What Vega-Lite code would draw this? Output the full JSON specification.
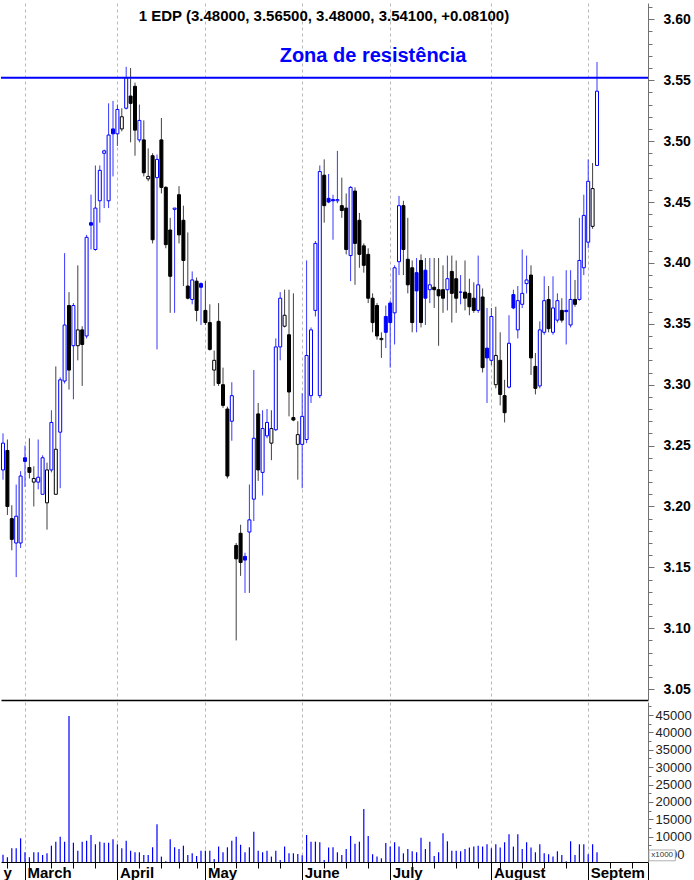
{
"$schema": "https://vega.github.io/schema/vega-lite/v6.json",
"padding": 0,
"spacing": 0,
"background": "#ffffff",
"config": {"view": {"stroke": null}, "font": "Liberation Sans"},
"datasets": {"k": [
{"i":0,"o":3.230,"h":3.260,"l":3.222,"c":3.252,"d":"u","v":4800},
{"i":1,"o":3.246,"h":3.255,"l":3.193,"c":3.200,"d":"d","v":4100},
{"i":2,"o":3.190,"h":3.201,"l":3.164,"c":3.173,"d":"d","v":6700},
{"i":3,"o":3.170,"h":3.218,"l":3.142,"c":3.192,"d":"u","v":6700},
{"i":4,"o":3.170,"h":3.229,"l":3.166,"c":3.225,"d":"u","v":9560},
{"i":5,"o":3.240,"h":3.250,"l":3.216,"c":3.237,"d":"u","v":5540},
{"i":6,"o":3.232,"h":3.256,"l":3.223,"c":3.228,"d":"d","v":4100},
{"i":7,"o":3.220,"h":3.233,"l":3.200,"c":3.223,"d":"d","v":5540},
{"i":8,"o":3.220,"h":3.255,"l":3.214,"c":3.224,"d":"u","v":5540},
{"i":9,"o":3.210,"h":3.242,"l":3.210,"c":3.240,"d":"u","v":4760},
{"i":10,"o":3.203,"h":3.236,"l":3.181,"c":3.230,"d":"d","v":5250},
{"i":11,"o":3.230,"h":3.279,"l":3.228,"c":3.269,"d":"u","v":7440},
{"i":12,"o":3.210,"h":3.315,"l":3.210,"c":3.247,"d":"d","v":8600},
{"i":13,"o":3.261,"h":3.306,"l":3.215,"c":3.304,"d":"u","v":10020},
{"i":14,"o":3.303,"h":3.408,"l":3.301,"c":3.349,"d":"u","v":8600},
{"i":15,"o":3.365,"h":3.376,"l":3.296,"c":3.312,"d":"d","v":44700},
{"i":16,"o":3.332,"h":3.367,"l":3.288,"c":3.365,"d":"u","v":8300},
{"i":17,"o":3.332,"h":3.398,"l":3.320,"c":3.345,"d":"d","v":6000},
{"i":18,"o":3.345,"h":3.348,"l":3.299,"c":3.333,"d":"d","v":8600},
{"i":19,"o":3.340,"h":3.423,"l":3.338,"c":3.421,"d":"u","v":8880},
{"i":20,"o":3.433,"h":3.456,"l":3.411,"c":3.431,"d":"u","v":10510},
{"i":21,"o":3.411,"h":3.480,"l":3.410,"c":3.445,"d":"u","v":7840},
{"i":22,"o":3.451,"h":3.480,"l":3.433,"c":3.476,"d":"u","v":8600},
{"i":23,"o":3.490,"h":3.493,"l":3.445,"c":3.492,"d":"u","v":8300},
{"i":24,"o":3.451,"h":3.531,"l":3.445,"c":3.505,"d":"u","v":8300},
{"i":25,"o":3.510,"h":3.533,"l":3.471,"c":3.506,"d":"u","v":9270},
{"i":26,"o":3.506,"h":3.530,"l":3.496,"c":3.526,"d":"u","v":7840},
{"i":27,"o":3.510,"h":3.527,"l":3.508,"c":3.520,"d":"d","v":6690},
{"i":28,"o":3.527,"h":3.561,"l":3.526,"c":3.552,"d":"u","v":8880},
{"i":29,"o":3.537,"h":3.560,"l":3.499,"c":3.531,"d":"d","v":6000},
{"i":30,"o":3.545,"h":3.548,"l":3.488,"c":3.509,"d":"d","v":5540},
{"i":31,"o":3.501,"h":3.530,"l":3.499,"c":3.517,"d":"u","v":5540},
{"i":32,"o":3.501,"h":3.517,"l":3.471,"c":3.474,"d":"d","v":4760},
{"i":33,"o":3.469,"h":3.494,"l":3.467,"c":3.471,"d":"d","v":4760},
{"i":34,"o":3.488,"h":3.490,"l":3.416,"c":3.419,"d":"d","v":6980},
{"i":35,"o":3.470,"h":3.489,"l":3.329,"c":3.485,"d":"u","v":13590},
{"i":36,"o":3.501,"h":3.519,"l":3.457,"c":3.462,"d":"d","v":4300},
{"i":37,"o":3.462,"h":3.463,"l":3.412,"c":3.415,"d":"d","v":3000},
{"i":38,"o":3.427,"h":3.437,"l":3.359,"c":3.389,"d":"d","v":9270},
{"i":39,"o":3.444,"h":3.445,"l":3.359,"c":3.445,"d":"u","v":6980},
{"i":40,"o":3.456,"h":3.463,"l":3.416,"c":3.423,"d":"d","v":6470},
{"i":41,"o":3.435,"h":3.447,"l":3.381,"c":3.402,"d":"d","v":7440},
{"i":42,"o":3.381,"h":3.425,"l":3.370,"c":3.371,"d":"d","v":4760},
{"i":43,"o":3.370,"h":3.393,"l":3.366,"c":3.386,"d":"u","v":5250},
{"i":44,"o":3.385,"h":3.388,"l":3.352,"c":3.361,"d":"d","v":4480},
{"i":45,"o":3.383,"h":3.384,"l":3.349,"c":3.380,"d":"u","v":6000},
{"i":46,"o":3.361,"h":3.385,"l":3.349,"c":3.351,"d":"d","v":6000},
{"i":47,"o":3.351,"h":3.366,"l":3.328,"c":3.329,"d":"d","v":6000},
{"i":48,"o":3.312,"h":3.328,"l":3.299,"c":3.320,"d":"d","v":3620},
{"i":49,"o":3.352,"h":3.367,"l":3.299,"c":3.301,"d":"d","v":7170},
{"i":50,"o":3.300,"h":3.314,"l":3.281,"c":3.283,"d":"d","v":5540},
{"i":51,"o":3.280,"h":3.282,"l":3.223,"c":3.225,"d":"d","v":6980},
{"i":52,"o":3.270,"h":3.302,"l":3.254,"c":3.291,"d":"u","v":8880},
{"i":53,"o":3.168,"h":3.170,"l":3.090,"c":3.157,"d":"d","v":10020},
{"i":54,"o":3.178,"h":3.185,"l":3.143,"c":3.154,"d":"d","v":7720},
{"i":55,"o":3.159,"h":3.162,"l":3.129,"c":3.156,"d":"u","v":5540},
{"i":56,"o":3.179,"h":3.218,"l":3.129,"c":3.189,"d":"u","v":6980},
{"i":57,"o":3.206,"h":3.312,"l":3.188,"c":3.256,"d":"u","v":11460},
{"i":58,"o":3.276,"h":3.285,"l":3.221,"c":3.230,"d":"d","v":6000},
{"i":59,"o":3.228,"h":3.279,"l":3.209,"c":3.264,"d":"u","v":5540},
{"i":60,"o":3.258,"h":3.280,"l":3.256,"c":3.269,"d":"u","v":6000},
{"i":61,"o":3.252,"h":3.279,"l":3.238,"c":3.264,"d":"d","v":4300},
{"i":62,"o":3.263,"h":3.338,"l":3.262,"c":3.331,"d":"u","v":6000},
{"i":63,"o":3.331,"h":3.376,"l":3.320,"c":3.371,"d":"u","v":3330},
{"i":64,"o":3.348,"h":3.378,"l":3.347,"c":3.357,"d":"d","v":7170},
{"i":65,"o":3.341,"h":3.378,"l":3.274,"c":3.294,"d":"d","v":5250},
{"i":66,"o":3.273,"h":3.375,"l":3.270,"c":3.271,"d":"d","v":5250},
{"i":67,"o":3.251,"h":3.270,"l":3.222,"c":3.259,"d":"d","v":5060},
{"i":68,"o":3.251,"h":3.293,"l":3.215,"c":3.274,"d":"u","v":4680},
{"i":69,"o":3.255,"h":3.402,"l":3.252,"c":3.324,"d":"u","v":10510},
{"i":70,"o":3.291,"h":3.347,"l":3.285,"c":3.345,"d":"u","v":8600},
{"i":71,"o":3.361,"h":3.418,"l":3.356,"c":3.416,"d":"u","v":8600},
{"i":72,"o":3.291,"h":3.480,"l":3.289,"c":3.475,"d":"u","v":8400},
{"i":73,"o":3.472,"h":3.485,"l":3.433,"c":3.447,"d":"d","v":3330},
{"i":74,"o":3.453,"h":3.473,"l":3.449,"c":3.450,"d":"u","v":6900},
{"i":75,"o":3.452,"h":3.456,"l":3.419,"c":3.451,"d":"u","v":6980},
{"i":76,"o":3.451,"h":3.492,"l":3.449,"c":3.452,"d":"u","v":5540},
{"i":77,"o":3.447,"h":3.470,"l":3.437,"c":3.443,"d":"d","v":4760},
{"i":78,"o":3.445,"h":3.457,"l":3.407,"c":3.411,"d":"d","v":6500},
{"i":79,"o":3.406,"h":3.463,"l":3.385,"c":3.462,"d":"u","v":10220},
{"i":80,"o":3.459,"h":3.462,"l":3.382,"c":3.416,"d":"d","v":8030},
{"i":81,"o":3.435,"h":3.441,"l":3.396,"c":3.407,"d":"d","v":8600},
{"i":82,"o":3.414,"h":3.416,"l":3.392,"c":3.398,"d":"d","v":17990},
{"i":83,"o":3.407,"h":3.412,"l":3.367,"c":3.371,"d":"d","v":10220},
{"i":84,"o":3.371,"h":3.375,"l":3.343,"c":3.351,"d":"d","v":4950},
{"i":85,"o":3.365,"h":3.367,"l":3.337,"c":3.340,"d":"d","v":4300},
{"i":86,"o":3.337,"h":3.343,"l":3.322,"c":3.338,"d":"d","v":3810},
{"i":87,"o":3.356,"h":3.365,"l":3.330,"c":3.343,"d":"u","v":8200},
{"i":88,"o":3.367,"h":3.369,"l":3.314,"c":3.351,"d":"u","v":7170},
{"i":89,"o":3.359,"h":3.398,"l":3.333,"c":3.396,"d":"u","v":8400},
{"i":90,"o":3.401,"h":3.455,"l":3.390,"c":3.447,"d":"u","v":7170},
{"i":91,"o":3.447,"h":3.451,"l":3.390,"c":3.411,"d":"d","v":5250},
{"i":92,"o":3.403,"h":3.437,"l":3.375,"c":3.382,"d":"d","v":6470},
{"i":93,"o":3.396,"h":3.402,"l":3.343,"c":3.351,"d":"d","v":5830},
{"i":94,"o":3.392,"h":3.404,"l":3.343,"c":3.377,"d":"u","v":5540},
{"i":95,"o":3.402,"h":3.407,"l":3.347,"c":3.351,"d":"d","v":9740},
{"i":96,"o":3.394,"h":3.404,"l":3.349,"c":3.371,"d":"u","v":6470},
{"i":97,"o":3.378,"h":3.404,"l":3.367,"c":3.382,"d":"u","v":8600},
{"i":98,"o":3.380,"h":3.404,"l":3.363,"c":3.378,"d":"d","v":4480},
{"i":99,"o":3.378,"h":3.404,"l":3.332,"c":3.373,"d":"d","v":5540},
{"i":100,"o":3.378,"h":3.398,"l":3.359,"c":3.371,"d":"d","v":11000},
{"i":101,"o":3.378,"h":3.406,"l":3.361,"c":3.387,"d":"u","v":8700},
{"i":102,"o":3.393,"h":3.406,"l":3.351,"c":3.375,"d":"d","v":6000},
{"i":103,"o":3.387,"h":3.402,"l":3.359,"c":3.371,"d":"d","v":6000},
{"i":104,"o":3.376,"h":3.390,"l":3.366,"c":3.376,"d":"u","v":5830},
{"i":105,"o":3.376,"h":3.402,"l":3.361,"c":3.371,"d":"d","v":6470},
{"i":106,"o":3.375,"h":3.387,"l":3.357,"c":3.364,"d":"d","v":6900},
{"i":107,"o":3.371,"h":3.384,"l":3.359,"c":3.361,"d":"d","v":7170},
{"i":108,"o":3.361,"h":3.406,"l":3.359,"c":3.382,"d":"u","v":7440},
{"i":109,"o":3.372,"h":3.379,"l":3.310,"c":3.314,"d":"d","v":7170},
{"i":110,"o":3.330,"h":3.363,"l":3.285,"c":3.322,"d":"u","v":7840},
{"i":111,"o":3.320,"h":3.363,"l":3.316,"c":3.356,"d":"u","v":6690},
{"i":112,"o":3.300,"h":3.364,"l":3.297,"c":3.324,"d":"d","v":7840},
{"i":113,"o":3.320,"h":3.343,"l":3.283,"c":3.292,"d":"d","v":6900},
{"i":114,"o":3.291,"h":3.304,"l":3.269,"c":3.277,"d":"d","v":8400},
{"i":115,"o":3.298,"h":3.357,"l":3.297,"c":3.334,"d":"u","v":10700},
{"i":116,"o":3.374,"h":3.378,"l":3.362,"c":3.363,"d":"u","v":7170},
{"i":117,"o":3.345,"h":3.381,"l":3.338,"c":3.369,"d":"u","v":10700},
{"i":118,"o":3.366,"h":3.411,"l":3.363,"c":3.375,"d":"u","v":6500},
{"i":119,"o":3.383,"h":3.406,"l":3.375,"c":3.386,"d":"u","v":8400},
{"i":120,"o":3.390,"h":3.398,"l":3.308,"c":3.322,"d":"d","v":6900},
{"i":121,"o":3.315,"h":3.326,"l":3.292,"c":3.297,"d":"d","v":5540},
{"i":122,"o":3.299,"h":3.352,"l":3.297,"c":3.345,"d":"u","v":7840},
{"i":123,"o":3.343,"h":3.389,"l":3.341,"c":3.369,"d":"u","v":5250},
{"i":124,"o":3.370,"h":3.381,"l":3.343,"c":3.346,"d":"d","v":4950},
{"i":125,"o":3.343,"h":3.389,"l":3.341,"c":3.363,"d":"u","v":4300},
{"i":126,"o":3.353,"h":3.375,"l":3.351,"c":3.369,"d":"u","v":5830},
{"i":127,"o":3.361,"h":3.371,"l":3.351,"c":3.353,"d":"d","v":4760},
{"i":128,"o":3.361,"h":3.394,"l":3.333,"c":3.360,"d":"u","v":3000},
{"i":129,"o":3.349,"h":3.394,"l":3.347,"c":3.370,"d":"u","v":8700},
{"i":130,"o":3.370,"h":3.386,"l":3.364,"c":3.366,"d":"d","v":4760},
{"i":131,"o":3.370,"h":3.437,"l":3.369,"c":3.402,"d":"u","v":7840},
{"i":132,"o":3.396,"h":3.456,"l":3.390,"c":3.439,"d":"u","v":7840},
{"i":133,"o":3.417,"h":3.485,"l":3.412,"c":3.467,"d":"u","v":4950},
{"i":134,"o":3.430,"h":3.482,"l":3.428,"c":3.461,"d":"d","v":7840},
{"i":135,"o":3.480,"h":3.565,"l":3.480,"c":3.541,"d":"u","v":5540}
]},
"vconcat": [
{
"width": 647, "height": 697,
"data": {"name": "k"},
"layer": [
{"mark": {"type": "rule", "strokeWidth": 1},
 "encoding": {
  "x": {"field": "i", "type": "quantitative",
        "scale": {"domain": [-0.4545, 146.59], "nice": false, "zero": false, "padding": 0},
        "axis": {"orient": "bottom", "title": null, "values": [5, 26, 46, 68, 88, 111, 133], "tickCount": 1000, "labels": false, "ticks": false, "domain": true, "domainColor": "#000000", "domainWidth": 1.3, "grid": true, "gridDash": [3, 3], "gridColor": "#b8b8b8", "gridWidth": 1}},
  "y": {"field": "l", "type": "quantitative",
        "scale": {"domain": [3.0411, 3.6134], "nice": false, "zero": false, "padding": 0},
        "axis": {"orient": "right", "title": null, "grid": false, "tickCount": 1000,
                 "values": [3.05,3.06,3.07,3.08,3.09,3.10,3.11,3.12,3.13,3.14,3.15,3.16,3.17,3.18,3.19,3.20,3.21,3.22,3.23,3.24,3.25,3.26,3.27,3.28,3.29,3.30,3.31,3.32,3.33,3.34,3.35,3.36,3.37,3.38,3.39,3.40,3.41,3.42,3.43,3.44,3.45,3.46,3.47,3.48,3.49,3.50,3.51,3.52,3.53,3.54,3.55,3.56,3.57,3.58,3.59,3.60,3.61],
                 "labelExpr": "round(datum.value*100) % 5 == 0 ? format(datum.value, '.2f') : ''",
                 "tickSize": {"condition": {"test": "round(datum.value*100) % 5 == 0", "value": 6}, "value": 4},
                 "domainColor": "#707070", "tickColor": "#707070",
                 "labelFont": "Liberation Sans", "labelFontWeight": "bold", "labelFontSize": 14, "labelColor": "#000000",
                 "labelPadding": 9, "labelFlush": false, "labelOverlap": false, "labelBound": false}},
  "y2": {"field": "h"},
  "color": {"field": "d", "type": "nominal", "scale": {"domain": ["u", "d"], "range": ["#3838ff", "#404040"]}, "legend": null}
 }},
{"mark": {"type": "bar", "size": 3, "strokeWidth": 1},
 "encoding": {
  "x": {"field": "i", "type": "quantitative"},
  "y": {"field": "o", "type": "quantitative"},
  "y2": {"field": "c"},
  "fill": {"condition": {"test": "datum.c > datum.o", "value": "#ffffff"}, "field": "d", "type": "nominal", "scale": {"domain": ["u", "d"], "range": ["#0000ff", "#000000"]}, "legend": null},
  "stroke": {"field": "d", "type": "nominal", "scale": {"domain": ["u", "d"], "range": ["#0000ff", "#000000"]}, "legend": null}
 }},
{"data": {"values": [{}]},
 "mark": {"type": "rule", "color": "#0000ff", "strokeWidth": 2},
 "encoding": {"y": {"datum": 3.552}}},
{"data": {"values": [{}]},
 "mark": {"type": "text", "text": "1 EDP (3.48000, 3.56500, 3.48000, 3.54100, +0.08100)", "font": "Liberation Sans", "fontWeight": "bold", "fontSize": 15, "align": "center", "baseline": "middle", "color": "#000000"},
 "encoding": {"x": {"datum": 72.95}, "y": {"datum": 3.6029}}},
{"data": {"values": [{}]},
 "mark": {"type": "text", "text": "Zona de resistência", "font": "Liberation Sans", "fontWeight": "bold", "fontSize": 20, "align": "center", "baseline": "middle", "color": "#0000ff"},
 "encoding": {"x": {"datum": 84.1}, "y": {"datum": 3.5696}}}
]
},
{
"width": 647, "height": 160,
"data": {"name": "k"},
"layer": [
{"mark": {"type": "rule", "strokeWidth": 1.2, "color": "#0000ff"},
 "encoding": {
  "x": {"field": "i", "type": "quantitative",
        "scale": {"domain": [-0.4545, 146.59], "nice": false, "zero": false, "padding": 0},
        "axis": {"orient": "bottom", "title": null, "tickCount": 1000,
                 "values": [-0.4545, 1, 5, 6, 11, 16, 21, 26, 31, 36, 40, 44, 46, 48, 53, 58, 63, 68, 73, 78, 83, 88, 93, 98, 103, 108, 111, 113, 118, 123, 128, 133, 138, 143, 146.59],
                 "grid": true, "gridDash": [3, 3], "gridColor": "#b8b8b8",
                 "gridOpacity": {"condition": {"test": "indexof([5,26,46,68,88,111,133], datum.value) >= 0", "value": 1}, "value": 0},
                 "domainColor": "#000000", "domainWidth": 1, "tickColor": "#000000",
                 "tickOpacity": {"condition": {"test": "datum.value < 0", "value": 0}, "value": 1},
                 "tickSize": {"condition": {"test": "indexof([5,26,46,68,88,111,133], datum.value) >= 0 || datum.value > 146 || datum.value < 0", "value": 22}, "value": 6},
                 "labelExpr": "datum.value == 5 ? 'March' : datum.value == 26 ? 'April' : datum.value == 46 ? 'May' : datum.value == 68 ? 'June' : datum.value == 88 ? 'July' : datum.value == 111 ? 'August' : datum.value == 133 ? 'Septem' : datum.value < 0 ? 'y' : ''",
                 "labelAlign": "left", "labelBaseline": "top", "labelFont": "Liberation Sans", "labelFontWeight": "bold", "labelFontSize": 15, "labelColor": "#000000",
                 "labelPadding": -19, "labelOffset": 2, "labelOverlap": false, "labelFlush": false, "labelBound": false}},
  "y": {"field": "v", "type": "quantitative",
        "scale": {"domain": [2750, 48740], "nice": false, "zero": false, "padding": 0},
        "axis": {"orient": "right", "title": null, "grid": false, "tickCount": 1000,
                 "values": [5000,7500,10000,12500,15000,17500,20000,22500,25000,27500,30000,32500,35000,37500,40000,42500,45000,47500],
                 "labelExpr": "datum.value % 5000 == 0 ? format(datum.value, 'd') : ''",
                 "tickSize": {"condition": {"test": "datum.value % 5000 == 0", "value": 5}, "value": 3},
                 "domainColor": "#707070", "tickColor": "#707070",
                 "labelFont": "Liberation Sans", "labelFontSize": 13, "labelColor": "#222222",
                 "labelPadding": 2, "labelFlush": false, "labelOverlap": false, "labelBound": false}},
  "y2": {"datum": 2750}
 }},
{"data": {"values": [{}]},
 "mark": {"type": "rect", "fill": "#ffffff", "stroke": "#9a9a9a", "strokeWidth": 0.8},
 "encoding": {"x": {"datum": 146.8}, "x2": {"datum": 152.8}, "y": {"datum": 6200}, "y2": {"datum": 3100}}},
{"data": {"values": [{}]},
 "mark": {"type": "text", "text": "x1000", "font": "Liberation Sans", "fontSize": 8, "align": "center", "baseline": "middle", "color": "#333333"},
 "encoding": {"x": {"datum": 149.8}, "y": {"datum": 4650}}}
]
}
]
}
